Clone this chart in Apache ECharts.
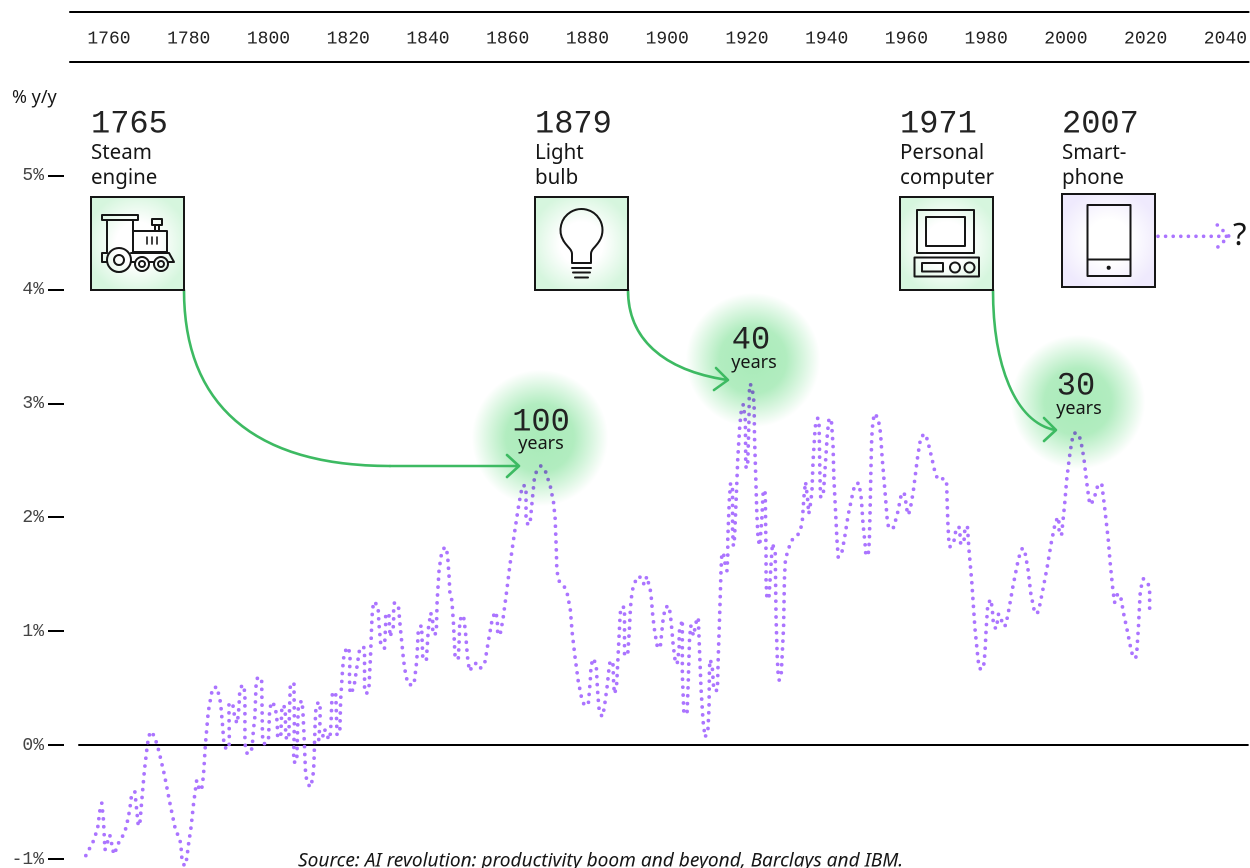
<!DOCTYPE html>
<html><head><meta charset="utf-8">
<style>html,body{margin:0;padding:0;background:#fff;overflow:hidden}#c{width:1250px;height:868px}</style>
<script src="https://cdn.jsdelivr.net/npm/echarts@6/dist/echarts.min.js"></script>
</head><body><div id="c"></div>
<script>
const xTickYears = [1760,1780,1800,1820,1840,1860,1880,1900,1920,1940,1960,1980,2000,2020,2040];
const yTicks = [-1,0,1,2,3,4,5];
const inventionYears = ['1765','1879','1971','2007'];
const inventionNames = [['Steam','engine'],['Light','bulb'],['Personal','computer'],['Smart-','phone']];
const lagYears = ['100','40','30'];
const sourceNote = 'Source: AI revolution: productivity boom and beyond, Barclays and IBM.';
const years = [
1754.2,1756.0,1756.7,1757.2,1757.7,1758.2,1758.6,1759.0,1759.4,1760.2,1760.6,1760.8,1761.4,1761.9,1762.8,1763.8,1764.4,1765.2,1765.7,1766.5,
1766.9,1767.3,1767.7,1768.2,1768.9,1769.6,1769.9,1770.4,1771.4,1772.5,1773.9,1775.4,1776.6,1777.4,1778.0,1778.3,1778.9,1779.5,1780.0,1780.6,
1781.2,1782.0,1782.5,1782.5,1783.2,1783.7,1784.2,1784.9,1785.6,1786.0,1787.1,1788.0,1788.5,1788.8,1789.4,1790.2,1790.1,1790.1,1791.0,1791.6,
1792.2,1792.6,1792.8,1793.4,1794.1,1794.1,1794.2,1794.7,1795.9,1796.2,1796.6,1796.9,1797.3,1798.3,1798.5,1798.9,1800.0,1800.3,1800.8,1801.7,
1802.2,1802.3,1803.1,1803.3,1803.4,1804.2,1804.3,1804.5,1805.1,1805.3,1805.5,1806.4,1806.5,1806.3,1807.1,1807.3,1807.5,1808.3,1808.6,1808.9,
1809.3,1809.6,1810.4,1811.1,1811.4,1811.7,1811.9,1812.5,1813.0,1812.9,1812.6,1813.5,1814.1,1814.6,1815.4,1815.7,1815.9,1816.1,1816.9,1817.2,
1817.9,1818.1,1818.6,1819.0,1819.9,1820.5,1820.3,1820.5,1821.4,1822.0,1822.6,1822.9,1823.9,1824.1,1824.1,1824.6,1825.2,1825.6,1825.9,1826.1,
1826.6,1827.5,1827.7,1828.2,1829.1,1829.4,1829.4,1830.2,1830.5,1831.4,1831.4,1831.6,1832.6,1833.1,1833.9,1834.5,1835.2,1836.5,1837.2,1837.6,
1838.4,1838.7,1839.6,1840.1,1840.7,1841.2,1841.2,1842.1,1842.3,1842.8,1843.4,1844.2,1844.9,1845.3,1845.5,1846.0,1846.4,1846.7,1846.8,1847.6,
1847.8,1848.0,1848.9,1849.4,1849.9,1850.4,1851.2,1851.9,1853.0,1854.2,1855.2,1856.2,1857.0,1857.4,1857.5,1858.1,1858.8,1859.6,1860.6,1861.7,
1862.6,1863.3,1863.8,1864.6,1864.6,1865.1,1865.7,1866.3,1866.7,1867.2,1868.3,1869.5,1870.7,1871.5,1871.9,1872.2,1872.3,1872.5,1872.9,1874.2,
1875.0,1875.7,1876.2,1876.9,1877.7,1878.5,1879.1,1880.2,1880.7,1880.9,1881.4,1882.2,1882.5,1882.8,1883.0,1883.7,1884.2,1885.0,1885.4,1885.7,
1886.4,1886.6,1886.8,1887.3,1887.6,1887.9,1888.2,1888.4,1889.3,1889.3,1890.1,1890.5,1890.8,1891.2,1891.8,1892.6,1893.5,1894.2,1894.9,1895.4,
1895.9,1896.4,1896.9,1897.6,1898.3,1898.9,1899.5,1900.5,1901.0,1901.5,1902.0,1902.5,1903.0,1903.0,1903.8,1903.8,1904.2,1905.0,1905.3,1905.6,
1905.9,1906.6,1907.4,1907.8,1908.1,1908.5,1909.0,1909.5,1910.2,1910.5,1910.6,1910.8,1911.3,1911.7,1912.6,1912.8,1913.2,1913.5,1913.7,1914.1,
1914.7,1915.0,1915.2,1915.2,1915.6,1915.9,1916.4,1916.4,1916.6,1916.9,1917.4,1917.7,1918.2,1918.6,1919.1,1919.6,1919.7,1919.8,1920.2,1920.5,
1920.6,1920.8,1921.3,1921.8,1921.9,1922.2,1922.5,1922.8,1923.2,1923.7,1924.1,1924.6,1924.8,1924.8,1925.0,1925.5,1926.0,1926.4,1926.8,1927.1,
1927.3,1927.6,1927.8,1928.1,1928.6,1929.2,1929.4,1929.6,1929.9,1930.5,1931.3,1932.7,1933.5,1933.9,1934.3,1934.7,1935.2,1935.5,1935.8,1936.3,
1936.6,1937.1,1937.4,1937.8,1938.1,1938.3,1938.4,1938.5,1939.1,1939.4,1939.8,1940.2,1940.6,1941.2,1941.6,1941.8,1942.3,1942.6,1942.9,1943.7,
1944.5,1945.4,1946.6,1947.1,1948.1,1948.7,1949.1,1949.7,1949.8,1950.4,1950.7,1950.9,1951.1,1951.3,1951.6,1952.0,1952.9,1953.5,1953.9,1954.4,
1954.9,1955.2,1955.6,1956.8,1957.8,1958.6,1959.4,1959.8,1960.0,1960.5,1961.0,1961.7,1962.2,1962.7,1963.3,1963.7,1964.8,1965.4,1966.3,1967.2,
1967.9,1969.6,1970.1,1970.2,1970.4,1970.6,1970.9,1971.8,1972.2,1972.5,1973.3,1973.6,1974.4,1974.7,1975.3,1975.7,1976.4,1976.8,1977.2,1977.6,
1978.0,1978.4,1979.3,1979.7,1980.0,1980.4,1981.1,1981.5,1981.8,1982.4,1982.8,1983.1,1983.8,1984.0,1984.9,1985.7,1986.7,1987.9,1988.4,1989.1,
1989.8,1990.5,1991.2,1992.0,1992.8,1993.4,1994.2,1995.3,1996.3,1997.1,1997.5,1998.2,1998.3,1998.9,1999.3,1999.7,2000.2,2000.9,2001.5,2002.1,
2003.2,2003.8,2004.5,2005.2,2005.7,2006.0,2007.0,2007.5,2008.1,2009.0,2009.7,2010.6,2011.1,2011.7,2012.2,2012.7,2013.0,2013.8,2014.5,2015.3,
2016.1,2016.5,2017.5,2017.8,2018.2,2018.6,2018.9,2019.4,2020.5,2021.0,2021.0,2021.0];
const growth = [
-0.97,-0.85,-0.78,-0.72,-0.58,-0.51,-0.65,-0.92,-0.92,-0.79,-0.84,-0.91,-0.96,-0.90,-0.83,-0.78,-0.71,-0.57,-0.43,-0.41,
-0.55,-0.69,-0.71,-0.50,-0.22,-0.01,0.06,0.12,0.08,-0.05,-0.26,-0.53,-0.73,-0.80,-0.86,-1.00,-1.06,-1.00,-0.86,-0.72,
-0.52,-0.31,-0.30,-0.37,-0.40,-0.27,0.01,0.29,0.43,0.50,0.51,0.37,0.17,0.03,-0.04,0.01,0.29,0.36,0.37,0.23,
0.19,0.33,0.47,0.53,0.47,0.06,-0.01,-0.08,-0.03,0.12,0.25,0.53,0.60,0.56,0.08,0.01,0.04,0.31,0.38,0.34,
0.20,0.07,0.07,0.28,0.35,0.33,0.13,0.06,0.05,0.33,0.54,0.54,0.20,-0.15,-0.15,0.13,0.34,0.39,0.32,0.11,
-0.24,-0.31,-0.37,-0.30,-0.17,0.18,0.32,0.38,0.32,0.18,0.04,0.06,0.14,0.08,0.05,0.19,0.40,0.47,0.44,0.09,
0.11,0.39,0.67,0.81,0.86,0.80,0.59,0.45,0.50,0.64,0.78,0.85,0.86,0.79,0.51,0.45,0.50,0.78,1.06,1.20,
1.26,1.21,1.07,0.87,0.85,1.06,1.13,1.16,0.95,1.05,1.19,1.25,1.22,1.02,0.74,0.60,0.53,0.53,0.74,1.02,
1.05,0.77,0.74,1.02,1.16,1.10,0.97,0.98,1.26,1.54,1.68,1.74,1.68,1.48,1.34,1.27,1.07,0.85,0.78,0.75,
0.89,1.10,1.14,1.00,0.78,0.65,0.69,0.72,0.67,0.71,0.92,1.12,1.17,1.10,0.97,0.97,1.10,1.31,1.59,1.86,
2.07,2.21,2.28,2.27,1.99,1.93,1.98,2.20,2.34,2.40,2.45,2.40,2.27,2.13,1.99,1.71,1.57,1.50,1.44,1.39,
1.32,1.19,0.98,0.77,0.56,0.42,0.36,0.35,0.56,0.69,0.76,0.71,0.50,0.36,0.29,0.25,0.32,0.53,0.67,0.74,
0.72,0.52,0.45,0.51,0.72,0.93,1.14,1.21,1.21,0.79,0.79,1.00,1.21,1.35,1.42,1.48,1.47,1.41,1.48,1.48,
1.34,1.13,0.99,0.85,0.87,1.08,1.21,1.22,1.08,0.88,0.74,0.71,0.85,0.99,1.10,0.62,0.27,0.29,0.57,0.92,
1.05,0.96,1.10,1.12,0.84,0.49,0.21,0.07,0.12,0.33,0.68,0.75,0.69,0.48,0.48,0.76,1.18,1.53,1.67,1.69,
1.55,1.53,1.67,1.81,2.16,2.30,2.24,1.89,1.75,1.82,2.24,2.51,2.80,2.94,2.99,2.85,2.50,2.43,2.47,2.82,
3.10,3.17,3.14,3.00,2.71,2.37,2.02,1.81,1.75,1.96,2.24,2.21,1.65,1.44,1.30,1.28,1.56,1.77,1.76,1.69,
1.13,0.78,0.64,0.57,0.62,1.04,1.45,1.60,1.66,1.73,1.80,1.84,1.90,1.97,2.18,2.31,2.17,2.03,2.08,2.22,
2.50,2.78,2.85,2.87,2.81,2.39,2.25,2.18,2.18,2.32,2.53,2.74,2.87,2.84,2.63,2.35,2.00,1.79,1.65,1.67,
1.82,2.02,2.22,2.29,2.30,2.16,1.95,1.74,1.68,1.66,1.79,2.07,2.42,2.70,2.84,2.91,2.87,2.74,2.53,2.32,
2.11,1.97,1.90,1.91,2.04,2.18,2.22,2.15,2.08,2.02,2.08,2.22,2.36,2.50,2.64,2.71,2.73,2.66,2.53,2.39,
2.33,2.34,2.29,2.15,1.95,1.81,1.74,1.77,1.84,1.91,1.91,1.77,1.77,1.91,1.92,1.71,1.43,1.22,1.02,0.88,
0.74,0.67,0.67,0.81,1.02,1.23,1.28,1.21,1.07,1.02,1.08,1.15,1.12,1.05,1.05,1.19,1.39,1.60,1.67,1.73,
1.68,1.54,1.33,1.19,1.15,1.22,1.36,1.56,1.77,1.91,1.97,2.00,1.87,1.84,1.98,2.12,2.33,2.53,2.67,2.74,
2.73,2.66,2.52,2.31,2.18,2.11,2.15,2.22,2.29,2.29,2.09,1.81,1.60,1.39,1.25,1.26,1.33,1.29,1.15,1.02,
0.88,0.81,0.76,0.83,1.04,1.32,1.39,1.46,1.43,1.37,1.23,1.16];

const MONO = '"Liberation Mono"', SANS = '"Noto Sans"';
const INK = '#161616', NUM = '#222', GREEN = '#3dba62', PURPLE = '#ab74ff';
const txt = (x,y,text,size,font,align,extra) => ({type:'text',z:20,silent:true,
  style:Object.assign({x,y,text,fontSize:size,fontFamily:font,fill:font===MONO?NUM:INK,align:align||'left',verticalAlign:'middle'},extra||{})});
const stroke = (w,c,extra) => Object.assign({stroke:c||INK,lineWidth:w||2,fill:null,lineCap:'round',lineJoin:'round'},extra||{});
const rect = (x1,y1,x2,y2,w) => ({type:'rect',z:15,silent:true,shape:{x:x1,y:y1,width:x2-x1,height:y2-y1},style:stroke(w)});
const line = (x1,y1,x2,y2,w,c,extra,z) => ({type:'line',z:z||15,silent:true,shape:{x1,y1,x2,y2},style:stroke(w,c,extra)});
const circ = (cx,cy,r,w,fill) => ({type:'circle',z:15,silent:true,shape:{cx,cy,r},style:Object.assign(stroke(w),fill?{fill}:{})});
const poly = (points,w,c,extra,z) => ({type:'polyline',z:z||15,silent:true,shape:{points},style:stroke(w,c,extra)});
const curve = (x1,y1,cpx1,cpy1,cpx2,cpy2,x2,y2,w,c,z) => ({type:'bezierCurve',z:z||15,silent:true,shape:{x1,y1,cpx1,cpy1,cpx2,cpy2,x2,y2},style:stroke(w,c)});
const boxFill = edge => ({type:'radial',x:.5,y:.5,r:.55,colorStops:[{offset:0,color:'#fff'},{offset:.42,color:'#fff'},{offset:1,color:edge}]});
const box = (x,y,edge) => ({type:'rect',z:14,silent:true,shape:{x,y,width:93,height:93},style:{fill:boxFill(edge),stroke:INK,lineWidth:2}});
const glow = (cx,cy,r) => ({type:'circle',z:8,silent:true,shape:{cx,cy,r},style:{blend:'multiply',
  fill:{type:'radial',x:.5,y:.5,r:.5,colorStops:[{offset:0,color:'#a9ebb9'},{offset:.5,color:'#b2edc0'},{offset:.75,color:'#d8f6df'},{offset:1,color:'#ffffff'}]}}});

const graphics = [
  txt(12,98,'% y/y',18,SANS),
  txt(298,861,sourceNote,19.1,SANS,'left',{fontStyle:'italic'}),
  glow(540,438,68),glow(753,360,67),glow(1078,402,67),
  curve(184,290,184,404,253,466,390,466,2.6,GREEN,9),
  line(390,466,518,466,2.6,GREEN,null,9),
  poly([[507,455],[519,466],[507,477]],2.6,GREEN,null,9),
  curve(628,290,628,338,662,370,727,380,2.6,GREEN,9),
  poly([[716,368],[728,380],[714,390]],2.6,GREEN,null,9),
  curve(993,290,993,365,1015,422,1055,430,2.6,GREEN,9),
  poly([[1044,418],[1056,430],[1044,441]],2.6,GREEN,null,9),
  box(91,197,'#d6f6de'),box(535,197,'#d6f6de'),box(900,197,'#d6f6de'),box(1062,194,'#efeafd')
];
[91,535,900,1062].forEach((x,i)=>{
  graphics.push(txt(x,124,inventionYears[i],32,MONO));
  graphics.push(txt(x,153,inventionNames[i][0],20.5,SANS));
  graphics.push(txt(x,178,inventionNames[i][1],20.5,SANS));
});
[[541,422,541,444],[751,340,754,363],[1076,386,1079,409]].forEach((p,i)=>{
  graphics.push(txt(p[0],p[1],lagYears[i],32,MONO,'center'));
  graphics.push(txt(p[2],p[3],'years',18,SANS,'center'));
});
graphics.push(rect(102,215,138,220),line(107,220,107,252),line(133,220,133,252),rect(133,231,167,252),
  rect(152,219,162,225),line(155,225,155,231),line(159,225,159,231),
  line(147,237,147,244,1.6),line(152,237,152,244,1.6),line(157,237,157,244,1.6),
  poly([[131,253],[169,253],[174,262],[169,262]]),poly([[107,253],[102,253],[102,262],[107,262]]),line(131,262,135,262),line(149,262,154,262),
  circ(119,260,12),circ(119,260,5),circ(142,264,7),circ(142,264,3),circ(161,264,7),circ(161,264,3));
graphics.push({type:'arc',z:15,silent:true,shape:{cx:581.5,cy:230,r:21,startAngle:2.6,endAngle:0.54,clockwise:true},style:stroke(2)},
  curve(563.5,240.8,567,247,572,249,572,254),curve(599.5,240.8,596,247,591,249,591,254),
  poly([[572,254],[572,263],[591,263],[591,254]]),
  line(572,268,591,268),line(573,272.5,590,272.5),line(575,277.5,588,277.5));
graphics.push(rect(917,210,974,253),rect(926,217,965,246),rect(914.5,257.5,979,276.5),rect(922,263,943,271.5),circ(955,267.5,5),circ(969.5,267.5,5));
graphics.push(rect(1087.5,205,1130.5,276),line(1087.5,259.5,1130.5,259.5),circ(1108.7,267.7,2,0.1,INK));
graphics.push(line(1158,236.3,1229,236.3,3.6,PURPLE,{lineDash:[0,7.6]}),
  poly([[1217.3,225],[1229,236.3],[1217.3,247.5]],3.6,PURPLE,{lineDash:[0,7.9]}),
  txt(1233,236,'?',31,SANS));

const chart = echarts.init(document.getElementById('c'),null,{renderer:'canvas',devicePixelRatio:2});
chart.setOption({
  animation:false,
  backgroundColor:'#fff',
  grid:{left:70,right:0,top:61.5,bottom:9,containLabel:false},
  xAxis:[{
    type:'value',position:'top',min:1750.23,max:2045.82,
    axisLine:{show:true,onZero:false,lineStyle:{color:'#000',width:2}},
    axisTick:{show:false},splitLine:{show:false},
    axisLabel:{customValues:xTickYears,margin:14,fontFamily:MONO,fontSize:18,color:'#222',formatter:v=>String(v),showMinLabel:true,showMaxLabel:true}
  },{
    type:'value',position:'top',offset:49.5,min:1750.23,max:2045.82,
    axisLine:{show:true,onZero:false,lineStyle:{color:'#000',width:2}},
    axisTick:{show:false},splitLine:{show:false},axisLabel:{show:false}
  }],
  yAxis:{
    type:'value',min:-1,max:6,offset:6,
    axisLine:{show:false},
    axisTick:{show:true,customValues:yTicks,length:16,lineStyle:{color:'#000',width:2}},
    splitLine:{show:false},
    axisLabel:{customValues:yTicks,margin:20,fontFamily:MONO,fontSize:18,color:'#444',formatter:v=>v+'%'}
  },
  series:[{
    type:'line',xAxisIndex:0,yAxisIndex:0,z:5,clip:false,smooth:false,showSymbol:false,symbol:'none',silent:true,
    data:years.map((y,i)=>[y,growth[i]]),
    lineStyle:{color:PURPLE,width:3.7,type:[0,7.9],cap:'round',join:'round'},
    markLine:{silent:true,symbol:'none',label:{show:false},animation:false,
      lineStyle:{color:'#000',width:2,type:'solid'},
      data:[[{coord:[1752.3,0]},{coord:[2045.82,0]}]]}
  }],
  graphic:{elements:graphics}
});
</script></body></html>
